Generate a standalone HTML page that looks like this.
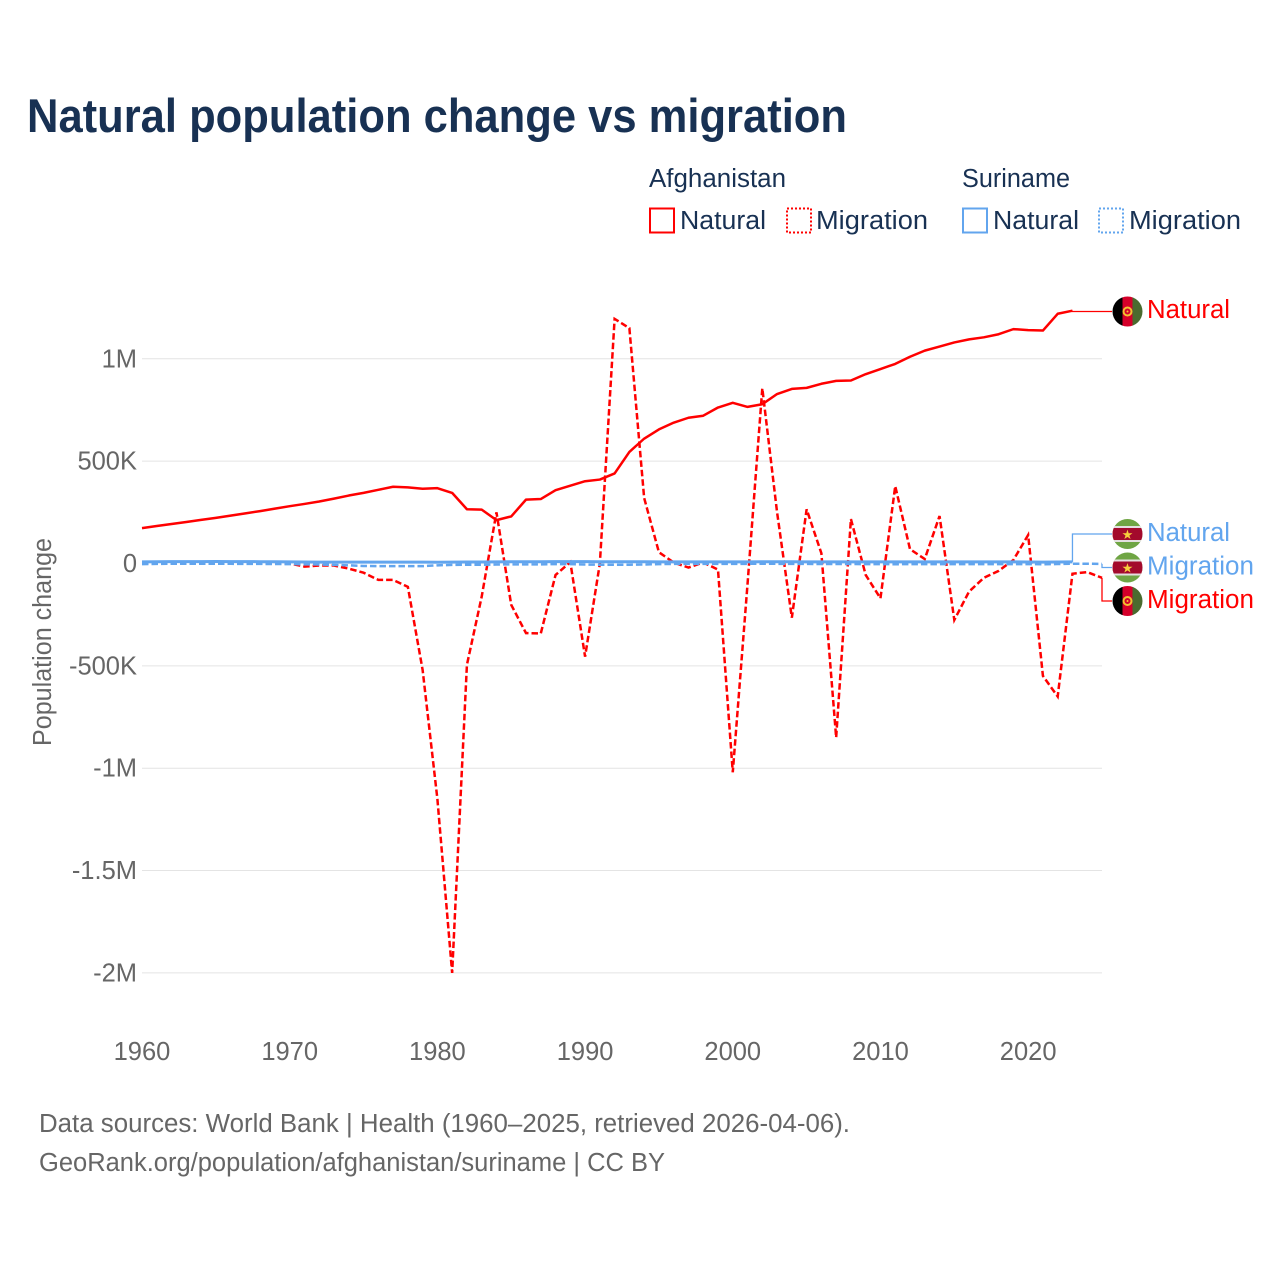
<!DOCTYPE html>
<html lang="en">
<head>
<meta charset="utf-8">
<title>Natural population change vs migration</title>
<style>
html,body{margin:0;padding:0;background:#fff;}
body{width:1280px;height:1280px;overflow:hidden;}
svg{display:block;font-family:"Liberation Sans",sans-serif;}
</style>
</head>
<body>
<svg id="chart" xmlns="http://www.w3.org/2000/svg" width="1280" height="1280" viewBox="0 0 1280 1280">
  <defs>
    <clipPath id="c1"><circle cx="1127.5" cy="311.5" r="15"/></clipPath>
    <clipPath id="c2"><circle cx="1127.5" cy="534" r="15"/></clipPath>
    <clipPath id="c3"><circle cx="1127.5" cy="567.5" r="15"/></clipPath>
    <clipPath id="c4"><circle cx="1127.5" cy="601" r="15"/></clipPath>
  </defs>
  <rect width="1280" height="1280" fill="#fff"/>
  <text x="27" y="132" font-size="47" font-weight="700" fill="#183153" textLength="820" lengthAdjust="spacingAndGlyphs">Natural population change vs migration</text>

  <g font-size="25.5" fill="#183153">
    <text x="649" y="187" textLength="137" lengthAdjust="spacingAndGlyphs">Afghanistan</text>
    <text x="962" y="187" textLength="108" lengthAdjust="spacingAndGlyphs">Suriname</text>
    <rect x="650" y="208.500" width="24" height="24" fill="none" stroke="#ff0000" stroke-width="2"/>
    <text x="680" y="229" textLength="86" lengthAdjust="spacingAndGlyphs">Natural</text>
    <rect x="787" y="208.500" width="24" height="24" fill="none" stroke="#ff0000" stroke-width="2" stroke-dasharray="2 2"/>
    <text x="816" y="229" textLength="112" lengthAdjust="spacingAndGlyphs">Migration</text>
    <rect x="963" y="208.500" width="24" height="24" fill="none" stroke="#62a5ee" stroke-width="2"/>
    <text x="993" y="229" textLength="86" lengthAdjust="spacingAndGlyphs">Natural</text>
    <rect x="1099" y="208.500" width="24" height="24" fill="none" stroke="#62a5ee" stroke-width="2" stroke-dasharray="2 2"/>
    <text x="1129" y="229" textLength="112" lengthAdjust="spacingAndGlyphs">Migration</text>
  </g>

  <g id="grid"></g>
  <g id="yticks" font-size="25.5" fill="#666"></g>
  <g id="xticks" font-size="25.5" fill="#666"></g>
  <text transform="translate(51 642) rotate(-90)" text-anchor="middle" font-size="25.5" fill="#666" textLength="208" lengthAdjust="spacingAndGlyphs">Population change</text>
  <g id="series" fill="none"></g>

  <g clip-path="url(#c1)">
    <rect x="1112" y="296" width="10.5" height="31" fill="#000"/><rect x="1122.5" y="296" width="10" height="31" fill="#d4002a"/><rect x="1132.5" y="296" width="11" height="31" fill="#4a6b2f"/>
    <circle cx="1127.5" cy="311.5" r="4" fill="none" stroke="#f2c230" stroke-width="2"/><circle cx="1127.5" cy="311.5" r="1" fill="#f2c230"/>
  </g>
  <g clip-path="url(#c2)">
    <rect x="1112" y="519" width="31" height="31" fill="#6fa544"/><rect x="1112" y="526" width="31" height="16" fill="#e4dfe0"/><rect x="1112" y="528" width="31" height="12" fill="#a30a2c"/>
    <text x="1127.5" y="539" text-anchor="middle" font-size="13" fill="#f7cf3d" font-family="'DejaVu Sans',sans-serif">★</text>
  </g>
  <g clip-path="url(#c3)">
    <rect x="1112" y="552" width="31" height="31" fill="#6fa544"/><rect x="1112" y="559.5" width="31" height="16" fill="#e4dfe0"/><rect x="1112" y="561.5" width="31" height="12" fill="#a30a2c"/>
    <text x="1127.5" y="572.5" text-anchor="middle" font-size="13" fill="#f7cf3d" font-family="'DejaVu Sans',sans-serif">★</text>
  </g>
  <g clip-path="url(#c4)">
    <rect x="1112" y="586" width="10.5" height="31" fill="#000"/><rect x="1122.5" y="586" width="10" height="31" fill="#d4002a"/><rect x="1132.5" y="586" width="11" height="31" fill="#4a6b2f"/>
    <circle cx="1127.5" cy="601" r="4" fill="none" stroke="#f2c230" stroke-width="2"/><circle cx="1127.5" cy="601" r="1" fill="#f2c230"/>
  </g>

  <g font-size="25.5">
    <text x="1147" y="318" fill="#ff0000" textLength="83" lengthAdjust="spacingAndGlyphs">Natural</text>
    <text x="1147" y="541" fill="#62a5ee" textLength="83" lengthAdjust="spacingAndGlyphs">Natural</text>
    <text x="1147" y="574.500" fill="#62a5ee" textLength="107" lengthAdjust="spacingAndGlyphs">Migration</text>
    <text x="1147" y="608" fill="#ff0000" textLength="107" lengthAdjust="spacingAndGlyphs">Migration</text>
  </g>

  <g font-size="25.5" fill="#666">
    <text x="39" y="1132" textLength="811" lengthAdjust="spacingAndGlyphs">Data sources: World Bank | Health (1960–2025, retrieved 2026-04-06).</text>
    <text x="39" y="1171" textLength="626" lengthAdjust="spacingAndGlyphs">GeoRank.org/population/afghanistan/suriname | CC BY</text>
  </g>
</svg>
<script>
const years = [1960,1961,1962,1963,1964,1965,1966,1967,1968,1969,1970,1971,1972,1973,1974,1975,1976,1977,1978,1979,1980,1981,1982,1983,1984,1985,1986,1987,1988,1989,1990,1991,1992,1993,1994,1995,1996,1997,1998,1999,2000,2001,2002,2003,2004,2005,2006,2007,2008,2009,2010,2011,2012,2013,2014,2015,2016,2017,2018,2019,2020,2021,2022,2023,2024,2025];
const afghanistanNatural = [173000,183000,193000,203000,213000,223000,234000,245000,256000,268000,280000,291000,303000,317000,332000,345000,360000,375000,372000,365000,368000,345000,265000,263000,212000,230000,312000,315000,358000,380000,402000,410000,440000,545000,610000,655000,688000,712000,722000,762000,785000,765000,778000,828000,853000,858000,878000,892000,894000,925000,950000,975000,1010000,1040000,1060000,1080000,1095000,1105000,1120000,1145000,1140000,1138000,1220000,1235000];
const afghanistanMigration = [2000,3000,3000,4000,5000,6000,5000,4000,4000,3000,0,-15000,-10000,-10000,-25000,-45000,-80000,-80000,-114000,-520000,-1150000,-2000000,-495000,-162000,250000,-202000,-340000,-342000,-56000,7000,-455000,0,1195000,1150000,320000,55000,5000,-20000,5000,-30000,-1020000,-100000,856000,250000,-265000,265000,50000,-850000,217000,-56000,-170000,378000,70000,22000,232000,-276000,-137000,-70000,-36000,17000,139000,-549000,-650000,-50000,-42000,-70000];
const surinameNatural = [8000,8500,9000,9000,9200,9500,9200,9000,8800,8500,8000,7500,7000,6800,6500,6500,6500,6500,6500,6500,6000,7000,7500,7500,8000,8500,8500,8800,9000,9000,9000,8500,8500,8500,8300,8000,8000,8000,8000,8000,8000,8200,8500,8500,8300,8000,8000,8000,8000,8000,8000,8000,8000,8000,8000,8000,8000,8000,8000,7800,7500,7000,7500,8000];
const surinameMigration = [-3000,-2000,-1000,-1000,-1500,-1500,-1500,-2000,-2000,-2500,-3000,-4000,-5000,-7000,-9000,-12000,-13000,-13000,-13000,-13000,-9000,-7000,-6000,-6000,-5000,-4000,-4000,-4000,-3000,-3000,-5000,-6000,-6000,-6000,-5000,-3000,-2000,-2000,-2000,-2000,-2000,-1500,-1000,-1500,-2000,-2000,-2500,-2500,-2500,-3000,-3000,-3500,-3000,-3000,-3000,-3000,-3000,-3000,-3000,-3000,-3000,-3500,-2500,-1000,-1000,-2000];
const yTickValues = [1000000,500000,0,-500000,-1000000,-1500000,-2000000];
const yTickLabels = ['1M','500K','0','-500K','-1M','-1.5M','-2M'];
const xTickValues = [1960,1970,1980,1990,2000,2010,2020];

const NS = 'http://www.w3.org/2000/svg';
const xScale = function (year) { return 142 + (year - 1960) * (960 / 65); };
const yScale = function (value) { return 563.5 - value * (204.7 / 1000000); };

function pathFor(values) {
  return values.map(function (v, i) {
    return (i ? 'L' : 'M') + xScale(years[i]).toFixed(2) + ' ' + yScale(v).toFixed(2);
  }).join(' ');
}

const gridGroup = document.getElementById('grid');
const yGroup = document.getElementById('yticks');
yTickValues.forEach(function (v, i) {
  if (v !== 0) {
    const line = document.createElementNS(NS, 'line');
    
    
    line.setAttribute('x1', xScale(1960));
    line.setAttribute('x2', xScale(2025));
    line.setAttribute('y1', yScale(v));
    line.setAttribute('y2', yScale(v));
    line.setAttribute('stroke', '#e4e4e4');
    line.setAttribute('stroke-width', '1');
    gridGroup.appendChild(line);
  }
  const label = document.createElementNS(NS, 'text');
  
  
  label.setAttribute('x', 137);
  label.setAttribute('y', yScale(v) + 8.5);
  label.setAttribute('text-anchor', 'end');
  label.textContent = yTickLabels[i];
  yGroup.appendChild(label);
});

const xGroup = document.getElementById('xticks');
xTickValues.forEach(function (year) {
  const label = document.createElementNS(NS, 'text');
  
  
  label.setAttribute('x', xScale(year));
  label.setAttribute('y', 1060);
  label.setAttribute('text-anchor', 'middle');
  label.textContent = String(year);
  xGroup.appendChild(label);
});

const seriesGroup = document.getElementById('series');

function addConnector(values, labelY, color, name) {
  const last = values.length - 1;
  const x0 = xScale(years[last]);
  const y0 = yScale(values[last]);
  const path = document.createElementNS(NS, 'path');
  
  
  path.setAttribute('d', 'M' + x0 + ' ' + y0 + ' L' + x0 + ' ' + labelY + ' L1112 ' + labelY);
  path.setAttribute('stroke', color);
  path.setAttribute('stroke-width', '1.3');
  seriesGroup.appendChild(path);
}

function addLine(values, color, width, dashed, name) {
  const path = document.createElementNS(NS, 'path');
  
  
  path.setAttribute('d', pathFor(values));
  path.setAttribute('stroke', color);
  path.setAttribute('stroke-width', width);
  path.setAttribute('stroke-linejoin', dashed ? 'miter' : 'round');
  if (dashed) {
    path.setAttribute('stroke-dasharray', '6.5 3');
  }
  seriesGroup.appendChild(path);
}

addConnector(afghanistanNatural, 311.5, '#ff0000', 'connector-afghanistan-natural');
addConnector(afghanistanMigration, 601, '#ff0000', 'connector-afghanistan-migration');
addConnector(surinameNatural, 534, '#62a5ee', 'connector-suriname-natural');
addConnector(surinameMigration, 567.5, '#62a5ee', 'connector-suriname-migration');
addLine(afghanistanNatural, '#ff0000', '2.5', false, 'line-afghanistan-natural');
addLine(afghanistanMigration, '#ff0000', '2.5', true, 'line-afghanistan-migration');
addLine(surinameMigration, '#62a5ee', '2.5', true, 'line-suriname-migration');
addLine(surinameNatural, '#62a5ee', '3', false, 'line-suriname-natural');
</script>
</body>
</html>
